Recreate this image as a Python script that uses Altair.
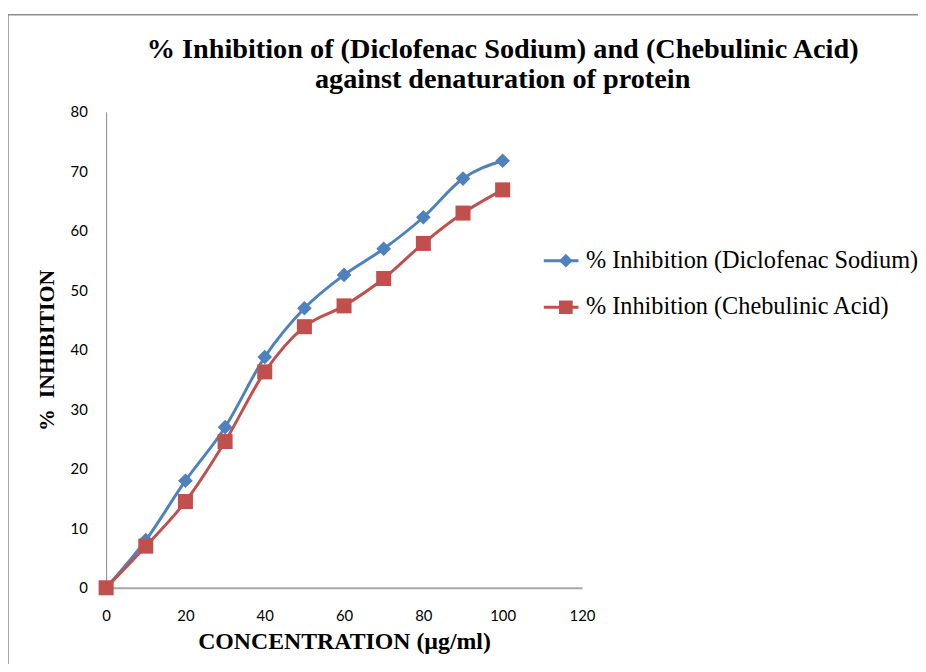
import altair as alt
import pandas as pd

conc = [0, 10, 20, 30, 40, 50, 60, 70, 80, 90, 100]
diclofenac = [0, 8, 18, 27, 38.8, 47, 52.6, 57, 62.3, 68.8, 71.8]
chebulinic = [0, 7, 14.5, 24.6, 36.3, 43.9, 47.4, 52, 57.9, 63, 66.9]
series_names = ["% Inhibition (Diclofenac Sodium)", "% Inhibition (Chebulinic Acid)"]
colors = ["#4F81BD", "#C0504D"]
x_ticks = [0, 20, 40, 60, 80, 100, 120]
y_ticks = [0, 10, 20, 30, 40, 50, 60, 70, 80]
title_lines = ["% Inhibition of (Diclofenac Sodium) and (Chebulinic Acid)",
               "against denaturation of protein"]

rows = []
for c, v in zip(conc, diclofenac):
    rows.append({"conc": c, "val": v, "series": series_names[0]})
for c, v in zip(conc, chebulinic):
    rows.append({"conc": c, "val": v, "series": series_names[1]})
df = pd.DataFrame(rows)

W, H = 480, 480

x_enc = alt.X(
    "conc:Q",
    scale=alt.Scale(domain=[0, 120], nice=False, zero=True),
    axis=alt.Axis(
        values=x_ticks, title="CONCENTRATION (µg/ml)", grid=False, ticks=False,
        domainColor="#A6A6A6", domainWidth=2, labelFlush=False,
        labelFont="Lato", labelFontSize=15, labelColor="#000", labelPadding=21,
        titleFont="Liberation Serif", titleFontWeight="bold", titleFontSize=24,
        titleColor="#000", titlePadding=6,
    ),
)
y_enc = alt.Y(
    "val:Q",
    scale=alt.Scale(domain=[0, 80], nice=False),
    axis=alt.Axis(
        values=y_ticks, title="%\u00a0\u00a0INHIBITION", grid=False, ticks=False,
        domainColor="#868686", domainWidth=1, labelFlush=False,
        labelFont="Lato", labelFontSize=15, labelColor="#000", labelPadding=19,
        titleFont="Liberation Serif", titleFontWeight="bold", titleFontSize=22,
        titleColor="#000", titlePadding=12,
    ),
)

color_scale = alt.Scale(domain=series_names, range=colors)

common_leg = dict(
    orient="none", legendY=136, title=None, clipHeight=28, rowPadding=19,
    labelFont="Liberation Serif", labelFontSize=24.5, labelLimit=400,
)
line_legend = alt.Legend(
    legendX=440, symbolType="stroke", symbolSize=1225, symbolStrokeWidth=3,
    labelOffset=6, labelColor="#000", **common_leg,
)
point_legend = alt.Legend(
    legendX=451.5, symbolSize=190, symbolStrokeWidth=0, labelExpr="''",
    **common_leg,
)

base = alt.Chart(df)

lines = base.mark_line(interpolate="monotone", strokeWidth=3).encode(
    x=x_enc, y=y_enc,
    color=alt.Color("series:N", scale=color_scale, legend=line_legend),
    detail="series:N",
)

points = base.mark_point(filled=True, opacity=1).encode(
    x=x_enc, y=y_enc,
    color=alt.Color("series:N", scale=color_scale, legend=point_legend),
    shape=alt.Shape("series:N", scale=alt.Scale(domain=series_names, range=["diamond", "square"]),
                    legend=point_legend),
    size=alt.Size("series:N", scale=alt.Scale(domain=series_names, range=[220, 230]), legend=None),
)

frame = alt.Chart(pd.DataFrame({"a": [0]})).mark_rect(
    fill=None, stroke="#8C8C8C", strokeWidth=1.5
).encode(x=alt.value(-99), x2=alt.value(1200), y=alt.value(-98), y2=alt.value(1200))

chart = alt.layer(frame, lines, points).resolve_legend(
    color="independent", shape="independent"
).properties(
    width=W, height=H,
    title=alt.Title(
        text=title_lines, font="Liberation Serif", fontSize=28.5, fontWeight="bold",
        color="#000", anchor="middle", dx=160, offset=-80, lineHeight=30,
    ),
    autosize=alt.AutoSizeParams(type="none"),
    padding={"left": 99, "top": 102, "right": 339, "bottom": 74},
    background="white",
).configure_view(stroke=None).configure_title(font="Liberation Serif")

chart.save("out.html", embed_options={"renderer": "svg", "actions": False})
